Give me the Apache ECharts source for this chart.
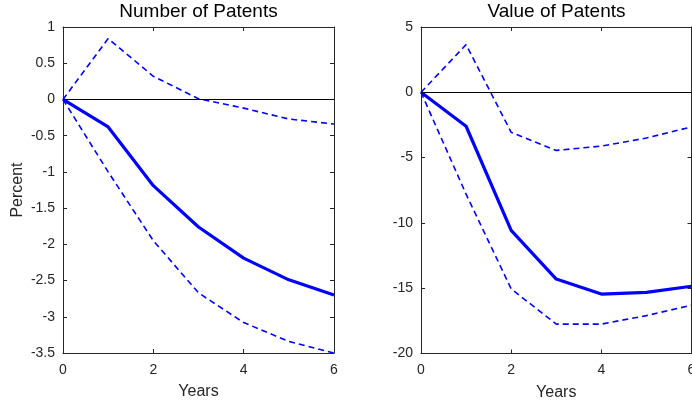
<!DOCTYPE html>
<html>
<head>
<meta charset="utf-8">
<script src="https://cdn.jsdelivr.net/npm/echarts@6/dist/echarts.min.js"></script>
<style>
  html, body { margin: 0; padding: 0; background: #ffffff; }
  #chart { width: 692px; height: 402px; }
</style>
</head>
<body>
<div id="chart"></div>
<script>
// Impulse responses (percent) over a six-year horizon, with confidence bands
const years = [0, 1, 2, 3, 4, 5, 6];

const numberMean  = [0, -0.38, -1.19, -1.76, -2.19, -2.49, -2.70];
const numberUpper = [0,  0.84,  0.32,  0.01, -0.12, -0.27, -0.34];
const numberLower = [0, -1.00, -1.95, -2.67, -3.08, -3.34, -3.50];

const valueMean  = [0, -2.60, -10.57, -14.30, -15.45, -15.32, -14.85];
const valueUpper = [0,  3.65,  -3.06,  -4.45,  -4.12,  -3.50,  -2.65];
const valueLower = [0, -7.80, -15.05, -17.75, -17.75, -17.10, -16.30];

const panelTitles = ['Number of Patents', 'Value of Patents'];
const xAxisName = 'Years';
const yAxisName = 'Percent';
const xTicks = { min: 0, max: 6, interval: 2 };
const numberTicks = { min: -3.5, max: 1, interval: 0.5 };
const valueTicks = { min: -20, max: 5, interval: 5 };

const FONT = 'Liberation Sans, Arial, Helvetica, sans-serif';
const AXIS_COLOR = '#262626';
const LINE_BLUE = '#0000ff';

const grids = [
  { left: 63, right: 358, top: 27, bottom: 49, outerBoundsMode: 'none', containLabel: false },
  { left: 421, right: 0.5, top: 27, bottom: 48.5, outerBoundsMode: 'none', containLabel: false }
];

function pairs(ys) {
  return years.map((x, i) => [x, ys[i]]);
}

function xAxes(gridIndex, withName) {
  const base = {
    gridIndex, type: 'value', min: xTicks.min, max: xTicks.max, interval: xTicks.interval,
    splitLine: { show: false },
    axisLine: { show: true, onZero: false, lineStyle: { color: AXIS_COLOR, width: 1 } },
    axisTick: { show: true, inside: true, length: 4, lineStyle: { color: AXIS_COLOR } }
  };
  return [
    Object.assign({}, base, {
      position: 'bottom',
      axisLabel: { show: true, color: AXIS_COLOR, fontSize: 14, fontFamily: FONT, margin: 10,
                   showMinLabel: true, showMaxLabel: true, hideOverlap: false },
      name: withName ? xAxisName : '',
      nameLocation: 'middle', nameGap: 31,
      nameTextStyle: { color: AXIS_COLOR, fontSize: 16, fontFamily: FONT }
    }),
    Object.assign({}, base, { position: 'top', axisLabel: { show: false } })
  ];
}

function yAxes(gridIndex, ticks, withName) {
  const base = {
    gridIndex, type: 'value', min: ticks.min, max: ticks.max, interval: ticks.interval,
    splitLine: { show: false },
    axisLine: { show: true, onZero: false, lineStyle: { color: AXIS_COLOR, width: 1 } },
    axisTick: { show: true, inside: true, length: 4, lineStyle: { color: AXIS_COLOR } }
  };
  return [
    Object.assign({}, base, {
      position: 'left',
      axisLabel: { show: true, color: AXIS_COLOR, fontSize: 14, fontFamily: FONT, margin: 8,
                   showMinLabel: true, showMaxLabel: true, hideOverlap: false },
      name: withName ? yAxisName : '',
      nameLocation: 'middle', nameGap: 37, nameRotate: 90,
      nameTextStyle: { color: AXIS_COLOR, fontSize: 16, fontFamily: FONT }
    }),
    Object.assign({}, base, { position: 'right', axisLabel: { show: false } })
  ];
}

function panelSeries(gridIdx, mean, upper, lower) {
  const xi = gridIdx * 2, yi = gridIdx * 2;
  const dashed = {
    type: 'line', xAxisIndex: xi, yAxisIndex: yi, showSymbol: false, symbol: 'none',
    lineStyle: { color: LINE_BLUE, width: 1.6, type: [6, 4] }, silent: true, z: 3
  };
  return [
    Object.assign({}, dashed, { name: 'upper', data: pairs(upper) }),
    Object.assign({}, dashed, { name: 'lower', data: pairs(lower) }),
    {
      type: 'line', name: 'response', xAxisIndex: xi, yAxisIndex: yi,
      showSymbol: false, symbol: 'none', silent: true, z: 4,
      lineStyle: { color: LINE_BLUE, width: 3.2 },
      data: pairs(mean),
      markLine: {
        silent: true, symbol: 'none', label: { show: false },
        lineStyle: { color: '#000000', width: 1, type: 'solid' },
        data: [{ yAxis: 0 }]
      }
    }
  ];
}

const chart = echarts.init(document.getElementById('chart'), null, { renderer: 'canvas' });
chart.setOption({
  animation: false,
  backgroundColor: '#ffffff',
  title: [
    { text: panelTitles[0], left: 198.5, top: 2, textAlign: 'center', padding: 0,
      textStyle: { color: '#000000', fontSize: 19, fontWeight: 'normal', fontFamily: FONT } },
    { text: panelTitles[1], left: 556.5, top: 2, textAlign: 'center', padding: 0,
      textStyle: { color: '#000000', fontSize: 19, fontWeight: 'normal', fontFamily: FONT } }
  ],
  grid: grids,
  xAxis: [].concat(xAxes(0, true), xAxes(1, true)),
  yAxis: [].concat(yAxes(0, numberTicks, true), yAxes(1, valueTicks, false)),
  series: [].concat(
    panelSeries(0, numberMean, numberUpper, numberLower),
    panelSeries(1, valueMean, valueUpper, valueLower)
  )
});
</script>
</body>
</html>
